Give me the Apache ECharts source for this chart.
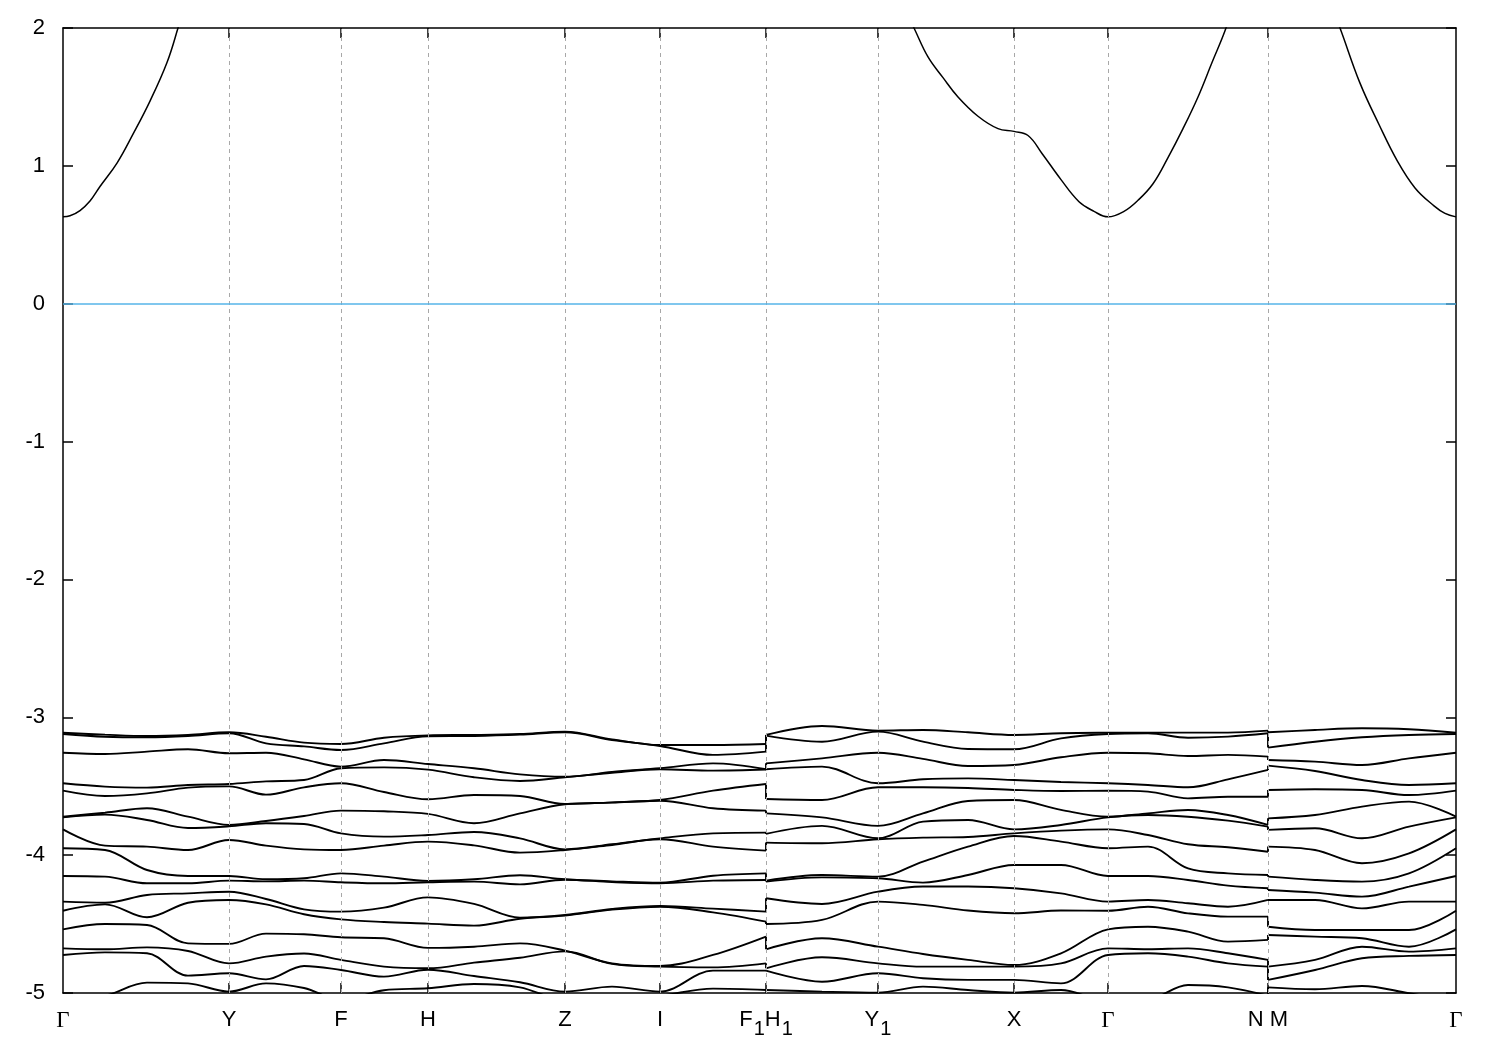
<!DOCTYPE html>
<html><head><meta charset="utf-8">
<script src="https://cdn.jsdelivr.net/npm/echarts@6/dist/echarts.min.js"></script>
<style>html,body{margin:0;padding:0;background:#fff}#c{width:1500px;height:1050px}</style>
</head><body><div id="c"></div>
<script>
// high-symmetry points (k-path distance) and their labels
const kTicks = [0, 166, 278, 365, 502, 597, 703, 815, 951, 1045, 1205, 1393];
const kLabels = ['Γ', 'Y', 'F', 'H', 'Z', 'I', 'F1|H1', 'Y1', 'X', 'Γ', 'N|M', 'Γ'];

// conduction band (eV), three path segments
const condK1 = [0, 7, 17, 27, 37, 54, 70, 87, 104, 115, 125, 166, 278, 502, 703];
const condE1 = [0.63, 0.638, 0.676, 0.745, 0.85, 1.02, 1.23, 1.47, 1.75, 2.0, 2.25, 3.0, 3.5, 3.8, 3.6];
const condK2 = [703, 815, 833, 851, 865, 880, 895, 915, 935, 951, 965, 979, 998, 1016, 1031, 1045, 1061, 1075, 1090, 1105, 1120, 1135, 1149, 1162, 1177, 1205];
const condE2 = [3.6, 2.6, 2.27, 2.0, 1.79, 1.64, 1.50, 1.36, 1.27, 1.25, 1.22, 1.09, 0.90, 0.74, 0.67, 0.63, 0.67, 0.75, 0.87, 1.06, 1.27, 1.50, 1.75, 1.98, 2.3, 2.9];
const condK3 = [1205, 1260, 1277, 1297, 1316, 1334, 1352, 1371, 1382, 1393];
const condE3 = [2.9, 2.32, 2.0, 1.60, 1.30, 1.04, 0.84, 0.71, 0.655, 0.63];

// valence bands: energies at each k node (top to bottom), segment Γ → F1
const seg1K = [0, 42, 84, 125, 166, 203, 241, 278, 321, 365, 411, 457, 502, 549, 597, 650, 703];
const gammaLevels = [-3.112, -3.121, -3.257, -3.479, -3.532, -3.721, -3.726, -3.813, -3.950, -4.151, -4.337, -4.403, -4.538, -4.676, -4.724, -5.06, -5.20];
const seg1Levels = [
  gammaLevels,
  [-3.126, -3.141, -3.266, -3.503, -3.571, -3.692, -3.706, -3.931, -3.963, -4.156, -4.345, -4.357, -4.499, -4.683, -4.705, -5.02, -5.20],
  [-3.136, -3.145, -3.249, -3.510, -3.552, -3.660, -3.745, -3.938, -4.108, -4.204, -4.289, -4.451, -4.507, -4.669, -4.712, -4.925, -5.15],
  [-3.128, -3.136, -3.232, -3.491, -3.510, -3.721, -3.803, -3.963, -4.151, -4.204, -4.277, -4.345, -4.640, -4.695, -4.874, -4.930, -5.10],
  [-3.109, -3.116, -3.261, -3.484, -3.501, -3.781, -3.791, -3.890, -4.151, -4.185, -4.265, -4.325, -4.644, -4.785, -4.857, -4.990, -5.15],
  [-3.141, -3.189, -3.257, -3.465, -3.561, -3.752, -3.769, -3.931, -4.175, -4.190, -4.318, -4.357, -4.569, -4.736, -4.901, -4.930, -5.10],
  [-3.184, -3.211, -3.305, -3.455, -3.508, -3.716, -3.774, -3.958, -4.168, -4.185, -4.393, -4.429, -4.574, -4.714, -4.804, -4.964, -5.10],
  [-3.194, -3.237, -3.358, -3.370, -3.479, -3.677, -3.842, -3.963, -4.132, -4.197, -4.410, -4.466, -4.596, -4.760, -4.833, -5.05, -5.15],
  [-3.148, -3.189, -3.310, -3.363, -3.542, -3.682, -3.866, -3.931, -4.156, -4.204, -4.381, -4.485, -4.603, -4.809, -4.881, -4.98, -5.20],
  [-3.131, -3.138, -3.339, -3.380, -3.595, -3.701, -3.854, -3.902, -4.187, -4.197, -4.306, -4.497, -4.673, -4.821, -4.831, -4.966, -5.10],
  [-3.128, -3.136, -3.370, -3.435, -3.564, -3.769, -3.832, -3.929, -4.175, -4.192, -4.354, -4.511, -4.664, -4.780, -4.877, -4.935, -5.10],
  [-3.121, -3.126, -3.414, -3.462, -3.571, -3.697, -3.878, -3.982, -4.146, -4.212, -4.453, -4.461, -4.640, -4.744, -4.922, -4.959, -5.10],
  [-3.104, -3.109, -3.431, -3.435, -3.629, -3.631, -3.958, -3.963, -4.175, -4.178, -4.434, -4.439, -4.693, -4.698, -4.990, -5.05, -5.12],
  [-3.160, -3.165, -3.397, -3.402, -3.617, -3.619, -3.921, -3.926, -4.190, -4.195, -4.391, -4.395, -4.785, -4.789, -4.954, -5.05, -5.10],
  [-3.201, -3.208, -3.370, -3.377, -3.600, -3.605, -3.878, -3.885, -4.200, -4.204, -4.369, -4.374, -4.804, -4.809, -4.990, -5.02, -5.10],
  [-3.201, -3.273, -3.334, -3.387, -3.532, -3.660, -3.842, -3.938, -4.149, -4.185, -4.388, -4.415, -4.724, -4.814, -4.838, -4.968, -5.05],
  [-3.194, -3.249, -3.377, -3.379, -3.484, -3.677, -3.837, -3.967, -4.132, -4.180, -4.410, -4.482, -4.591, -4.785, -4.838, -4.978, -5.05]
];
// segment H1 → N
const seg2K = [703, 759, 815, 860, 905, 951, 998, 1045, 1085, 1125, 1165, 1205];
const seg2Levels = [
  [-3.128, -3.133, -3.334, -3.377, -3.593, -3.697, -3.846, -3.909, -4.185, -4.192, -4.313, -4.499, -4.683, -4.821, -4.838, -4.978, -5.05],
  [-3.063, -3.177, -3.298, -3.358, -3.600, -3.726, -3.788, -3.914, -4.144, -4.161, -4.354, -4.470, -4.603, -4.741, -4.918, -4.990, -5.10],
  [-3.097, -3.104, -3.257, -3.479, -3.508, -3.788, -3.878, -3.885, -4.156, -4.168, -4.265, -4.337, -4.664, -4.785, -4.857, -4.997, -5.10],
  [-3.092, -3.177, -3.302, -3.450, -3.508, -3.697, -3.757, -3.873, -4.047, -4.199, -4.228, -4.361, -4.717, -4.809, -4.893, -4.954, -5.10],
  [-3.109, -3.230, -3.353, -3.443, -3.513, -3.607, -3.745, -3.868, -3.938, -4.144, -4.228, -4.402, -4.760, -4.809, -4.905, -4.978, -5.10],
  [-3.128, -3.232, -3.346, -3.455, -3.527, -3.600, -3.813, -3.842, -3.861, -4.071, -4.240, -4.422, -4.797, -4.809, -4.905, -4.997, -5.10],
  [-3.116, -3.153, -3.290, -3.469, -3.535, -3.672, -3.781, -3.822, -3.902, -4.071, -4.277, -4.402, -4.712, -4.785, -4.930, -4.978, -5.10],
  gammaLevels,
  [-3.111, -3.116, -3.261, -3.491, -3.539, -3.697, -3.709, -3.854, -3.938, -4.151, -4.325, -4.374, -4.519, -4.683, -4.712, -5.05, -5.20],
  [-3.111, -3.148, -3.281, -3.508, -3.588, -3.672, -3.721, -3.921, -4.096, -4.180, -4.349, -4.422, -4.555, -4.676, -4.736, -4.942, -5.10],
  [-3.111, -3.140, -3.273, -3.450, -3.576, -3.709, -3.750, -3.943, -4.132, -4.221, -4.374, -4.446, -4.627, -4.712, -4.785, -4.959, -5.10],
  [-3.097, -3.116, -3.285, -3.382, -3.576, -3.781, -3.793, -3.975, -4.144, -4.240, -4.325, -4.446, -4.615, -4.760, -4.809, -5.02, -5.10]
];
// segment M → Γ
const seg3K = [1205, 1252, 1299, 1346, 1393];
const seg3Levels = [
  [-3.109, -3.220, -3.310, -3.351, -3.527, -3.733, -3.817, -3.938, -4.156, -4.253, -4.325, -4.519, -4.579, -4.809, -4.905, -4.959, -5.10],
  [-3.092, -3.177, -3.322, -3.390, -3.522, -3.709, -3.805, -3.963, -4.180, -4.272, -4.325, -4.543, -4.591, -4.760, -4.833, -4.973, -5.10],
  [-3.080, -3.145, -3.346, -3.455, -3.527, -3.648, -3.878, -4.059, -4.192, -4.301, -4.386, -4.543, -4.603, -4.664, -4.748, -4.949, -5.10],
  [-3.087, -3.128, -3.298, -3.491, -3.564, -3.612, -3.793, -3.987, -4.132, -4.228, -4.337, -4.543, -4.664, -4.700, -4.731, -5.002, -5.10],
  gammaLevels
];

const chart = echarts.init(document.getElementById('c'), null, {renderer: 'canvas'});
const black = '#000';
const condStyle = {color: black, width: 1.5};
const bandStyle = {color: black, width: 1.9};

function zip(ks, es) { return ks.map((k, i) => [k, es[i]]); }

const series = [];
// dashed verticals + Fermi level
series.push({
  type: 'line', data: [], z: 1, silent: true,
  markLine: {
    silent: true, symbol: ['none', 'none'], animation: false,
    label: {show: false},
    data: kTicks.slice(1, -1).map(k => ({xAxis: k, lineStyle: {color: '#a8a8a8', type: [4, 4], width: 1}}))
      .concat([{yAxis: 0, lineStyle: {color: '#56b4e9', type: 'solid', width: 1.6}}])
  }
});
[[condK1, condE1], [condK2, condE2], [condK3, condE3]].forEach(([ks, es]) => {
  series.push({type: 'line', data: zip(ks, es), smooth: 0.4, showSymbol: false, z: 3, lineStyle: condStyle, silent: true});
});
const nb = gammaLevels.length;
const segs = [[seg1K, seg1Levels], [seg2K, seg2Levels], [seg3K, seg3Levels]];
for (let j = 0; j < nb; j++) {
  segs.forEach(([ks, lv]) => {
    series.push({type: 'line', data: ks.map((k, i) => [k, lv[i][j]]), smooth: 0.35, showSymbol: false, z: 3, lineStyle: bandStyle, silent: true});
  });
  // discontinuities at F1|H1 and N|M
  series.push({type: 'line', data: [[seg1K[seg1K.length - 1], seg1Levels[seg1Levels.length - 1][j]], [seg2K[0], seg2Levels[0][j]]], showSymbol: false, z: 3, lineStyle: bandStyle, silent: true});
  series.push({type: 'line', data: [[seg2K[seg2K.length - 1], seg2Levels[seg2Levels.length - 1][j]], [seg3K[0], seg3Levels[0][j]]], showSymbol: false, z: 3, lineStyle: bandStyle, silent: true});
}

const labelRich = {
  t: {fontSize: 22, fontFamily: 'Liberation Sans', color: black, lineHeight: 26, verticalAlign: 'top'},
  g: {fontSize: 23, fontFamily: 'Liberation Serif', color: black, lineHeight: 26, verticalAlign: 'top'},
  s: {fontSize: 20, fontFamily: 'Liberation Sans', color: black, lineHeight: 30, verticalAlign: 'bottom', padding: [0, 0, 0, 1]}
};
function fmtLabel(v) {
  const i = kTicks.indexOf(v);
  if (i < 0) return '';
  const l = kLabels[i];
  if (l === 'Γ') return '{g|Γ}';
  if (l === 'F1|H1') return '{t|F}{s|1}{t|H}{s|1}';
  if (l === 'Y1') return '{t|Y}{s|1}';
  if (l === 'N|M') return '{t|N M}';
  return '{t|' + l + '}';
}

const axisLine = {show: true, onZero: false, lineStyle: {color: black, width: 1.5}};
const tickStyle = {color: black, width: 1.5};
chart.setOption({
  animation: false,
  backgroundColor: '#fff',
  grid: {left: 63, right: 44, top: 28, bottom: 57, containLabel: false},
  xAxis: [
    {type: 'value', min: 0, max: 1393, position: 'bottom', axisLine: axisLine,
     axisTick: {show: true, inside: true, length: 10, customValues: kTicks.slice(1, -1), lineStyle: tickStyle},
     axisLabel: {show: true, customValues: kTicks, formatter: fmtLabel, rich: labelRich, margin: 16, verticalAlign: 'top'},
     splitLine: {show: false}},
    {type: 'value', min: 0, max: 1393, position: 'top', axisLine: axisLine,
     axisTick: {show: true, inside: true, length: 10, customValues: kTicks.slice(1, -1), lineStyle: tickStyle},
     axisLabel: {show: false}, splitLine: {show: false}}
  ],
  yAxis: [
    {type: 'value', min: -5, max: 2, interval: 1, position: 'left', axisLine: axisLine,
     axisTick: {show: true, inside: true, length: 10, lineStyle: tickStyle},
     axisLabel: {show: true, margin: 18, fontSize: 22, fontFamily: 'Liberation Sans', color: black},
     splitLine: {show: false}},
    {type: 'value', min: -5, max: 2, interval: 1, position: 'right', axisLine: axisLine,
     axisTick: {show: true, inside: true, length: 10, lineStyle: tickStyle},
     axisLabel: {show: false}, splitLine: {show: false}}
  ],
  series: series
});
</script>
</body></html>
